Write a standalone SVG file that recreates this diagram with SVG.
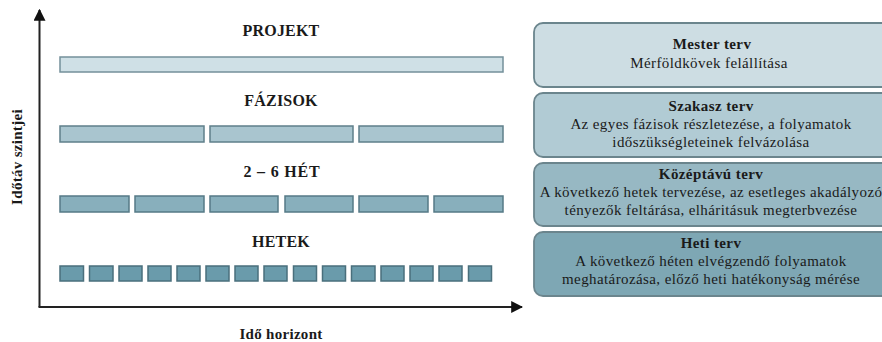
<svg xmlns="http://www.w3.org/2000/svg" width="882" height="342" viewBox="0 0 882 342" font-family="Liberation Serif" fill="#1a1a1a">
<defs>
<marker id="ah" viewBox="0 0 10 10" refX="9" refY="5" markerWidth="12" markerHeight="12" markerUnits="userSpaceOnUse" orient="auto">
<path d="M0,0 L10,5 L0,10 Z" fill="#111"/>
</marker>
</defs>
<g id="connectors" stroke="#222" stroke-width="2" fill="none">
<path d="M39.5,307 L39.5,10" marker-end="url(#ah)"/>
<path d="M38.5,307 L522,307" marker-end="url(#ah)"/>
</g>
<g id="axis-labels" font-family="Liberation Serif" font-weight="bold" font-size="15" text-anchor="middle" letter-spacing="0.3">
<text transform="translate(22,157) rotate(-90)">Időtáv szintjei</text>
<text x="281" y="339">Idő horizont</text>
</g>
<g id="projekt">
<text font-family="Liberation Serif" font-weight="bold" font-size="16" text-anchor="middle" letter-spacing="0.2" x="281" y="36">PROJEKT</text>
<rect fill="#cfe0e6" stroke="#74909a" stroke-width="1.5" x="60" y="57" width="443" height="15"/>
</g>
<g id="fazisok">
<text font-family="Liberation Serif" font-weight="bold" font-size="16" text-anchor="middle" letter-spacing="0.2" x="281" y="106">FÁZISOK</text>
<g fill="#a9c5cf" stroke="#5f7f8a" stroke-width="1.5">
<rect x="60" y="126" width="144" height="16"/>
<rect x="210" y="126" width="143" height="16"/>
<rect x="359" y="126" width="144" height="16"/>
</g>
</g>
<g id="het26">
<text font-family="Liberation Serif" font-weight="bold" font-size="16" text-anchor="middle" letter-spacing="0.8" x="282" y="177">2 – 6 HÉT</text>
<g fill="#88afbc" stroke="#557a86" stroke-width="1.5">
<rect x="60" y="196" width="69" height="16"/>
<rect x="135" y="196" width="69" height="16"/>
<rect x="210" y="196" width="68" height="16"/>
<rect x="285" y="196" width="68" height="16"/>
<rect x="359" y="196" width="69" height="16"/>
<rect x="434" y="196" width="69" height="16"/>
</g>
</g>
<g id="hetek">
<text font-family="Liberation Serif" font-weight="bold" font-size="16" text-anchor="middle" letter-spacing="0.2" x="281" y="247">HETEK</text>
<g fill="#6a9bab" stroke="#4a6f7c" stroke-width="1.5">
<rect x="60" y="266" width="23.5" height="15"/>
<rect x="89.5" y="266" width="23.5" height="15"/>
<rect x="119" y="266" width="23" height="15"/>
<rect x="148" y="266" width="23" height="15"/>
<rect x="177" y="266" width="23" height="15"/>
<rect x="206" y="266" width="23" height="15"/>
<rect x="235" y="266" width="23" height="15"/>
<rect x="264" y="266" width="23" height="15"/>
<rect x="293.5" y="266" width="23" height="15"/>
<rect x="322.5" y="266" width="23" height="15"/>
<rect x="351.5" y="266" width="23.5" height="15"/>
<rect x="381" y="266" width="23" height="15"/>
<rect x="410" y="266" width="23" height="15"/>
<rect x="439" y="266" width="23" height="15"/>
<rect x="468.5" y="266" width="23" height="15"/>
</g>
</g>
<g id="mester" font-family="Liberation Serif" font-size="15" text-anchor="middle" letter-spacing="0.4">
<rect stroke="#6b858d" stroke-width="1.8" x="534" y="23" width="360" height="64" rx="9" fill="#cddde3"/>
<text font-weight="bold" x="712" y="49">Mester terv</text>
<text x="709" y="68">Mérföldkövek felállítása</text>
</g>
<g id="szakasz" font-family="Liberation Serif" font-size="15" text-anchor="middle" letter-spacing="0.4">
<rect stroke="#6b858d" stroke-width="1.8" x="534" y="93" width="360" height="64" rx="9" fill="#b1cbd4"/>
<text font-weight="bold" x="711" y="111">Szakasz terv</text>
<text x="711" y="129">Az egyes fázisok részletezése, a folyamatok</text>
<text x="711" y="147">időszükségleteinek felvázolása</text>
</g>
<g id="kozeptavu" font-family="Liberation Serif" font-size="15" text-anchor="middle" letter-spacing="0.4">
<rect stroke="#6b858d" stroke-width="1.8" x="534" y="163" width="360" height="63" rx="9" fill="#97b8c3"/>
<text font-weight="bold" x="711" y="179">Középtávú terv</text>
<text x="711" y="197">A következő hetek tervezése, az esetleges akadályozó</text>
<text x="711" y="215">tényezők feltárása, elháritásuk megterbvezése</text>
</g>
<g id="heti" font-family="Liberation Serif" font-size="15" text-anchor="middle" letter-spacing="0.4">
<rect stroke="#6b858d" stroke-width="1.8" x="534" y="232" width="360" height="64" rx="9" fill="#7ea7b4"/>
<text font-weight="bold" x="711" y="248">Heti terv</text>
<text x="711" y="266">A következő héten elvégzendő folyamatok</text>
<text x="711" y="284">meghatározása, előző heti hatékonyság mérése</text>
</g>
</svg>
